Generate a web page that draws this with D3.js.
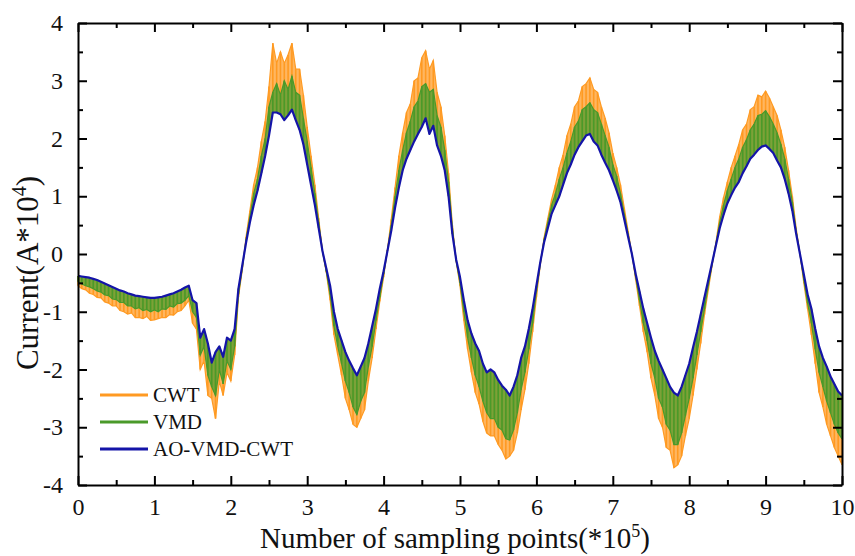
<!DOCTYPE html>
<html>
<head>
<meta charset="utf-8">
<script src="https://cdn.jsdelivr.net/npm/d3@7/dist/d3.min.js"></script>
<style>
  html, body { margin: 0; padding: 0; background: #fff; }
  svg { display: block; }
  text { font-family: "Liberation Serif", "Times New Roman", serif; fill: #111; }
</style>
</head>
<body>
<svg id="chart" width="855" height="556"></svg>
<script>
// ---- data (x in units of 1e5 sampling points, read every 0.05) ----
const sampleX = d3.range(0, 201).map(i => +(i * 0.05).toFixed(2));

const aoVmdCwt = [
  -0.38,-0.39,-0.40,-0.41,-0.43,-0.45,-0.48,-0.51,-0.54,-0.57,
  -0.60,-0.63,-0.65,-0.68,-0.70,-0.72,-0.73,-0.74,-0.75,-0.76,
  -0.76,-0.75,-0.74,-0.72,-0.70,-0.68,-0.65,-0.62,-0.58,-0.55,
  -0.80,-0.85,-1.45,-1.30,-1.55,-1.88,-1.70,-1.60,-1.78,-1.45,
  -1.50,-1.30,-0.60,-0.20, 0.20, 0.55, 0.85, 1.10, 1.40, 1.70,
   2.05, 2.45, 2.45, 2.42, 2.32, 2.40, 2.50, 2.32, 2.15, 1.90,
   1.55, 1.20, 0.85, 0.45, 0.05,-0.25,-0.55,-1.00,-1.30,-1.50,
  -1.70,-1.85,-1.98,-2.10,-1.95,-1.80,-1.55,-1.25,-0.95,-0.60,
  -0.30, 0.05, 0.40, 0.80, 1.15, 1.45, 1.65, 1.80, 1.95, 2.08,
   2.20, 2.35, 2.08, 2.22, 1.88, 1.70, 1.45, 1.00, 0.35,-0.10,
  -0.40,-0.80,-1.15,-1.38,-1.55,-1.68,-1.90,-2.05,-2.00,-2.05,
  -2.18,-2.28,-2.35,-2.45,-2.30,-2.10,-1.80,-1.60,-1.30,-0.95,
  -0.55,-0.15, 0.20, 0.45, 0.70, 0.85, 1.00, 1.20, 1.40, 1.55,
   1.72, 1.85, 1.95, 2.05, 2.08, 1.95, 1.88, 1.72, 1.58, 1.45,
   1.28, 1.10, 0.90, 0.60, 0.30, 0.00,-0.35,-0.65,-0.95,-1.20,
  -1.45,-1.68,-1.85,-2.00,-2.15,-2.30,-2.40,-2.45,-2.30,-2.10,
  -1.90,-1.62,-1.35,-1.05,-0.75,-0.45,-0.15, 0.15, 0.45, 0.68,
   0.88, 1.02, 1.15, 1.25, 1.40, 1.52, 1.65, 1.72, 1.80, 1.86,
   1.88, 1.82, 1.75, 1.62, 1.50, 1.30, 1.05, 0.75, 0.35, 0.00,
  -0.35,-0.70,-0.95,-1.30,-1.60,-1.80,-1.95,-2.12,-2.25,-2.38,
  -2.45
];

const vmdExtreme = [
  -0.48,-0.52,-0.55,-0.57,-0.60,-0.64,-0.66,-0.71,-0.72,-0.78,
  -0.79,-0.84,-0.84,-0.90,-0.90,-0.95,-0.93,-0.98,-0.96,-1.00,
  -0.97,-1.00,-0.95,-0.96,-0.90,-0.92,-0.86,-0.85,-0.80,-0.72,
  -1.00,-1.10,-1.75,-1.60,-2.10,-2.30,-2.45,-2.00,-2.25,-1.85,
  -2.00,-1.60,-0.70,-0.25, 0.25, 0.65, 1.05, 1.30, 1.70, 2.00,
   2.55, 2.80, 2.95, 2.75, 3.00, 2.85, 3.08, 2.80, 2.75, 2.35,
   1.95, 1.50, 1.05, 0.55, 0.05,-0.30,-0.70,-1.25,-1.60,-1.90,
  -2.20,-2.40,-2.65,-2.78,-2.55,-2.40,-1.95,-1.60,-1.15,-0.75,
  -0.35, 0.06, 0.50, 1.00, 1.45, 1.80, 2.10, 2.30, 2.55, 2.65,
   2.90, 2.95, 2.80, 2.85, 2.40, 2.20, 1.80, 1.25, 0.45,-0.12,
  -0.50,-1.00,-1.45,-1.80,-2.10,-2.30,-2.55,-2.75,-2.85,-2.85,
  -3.00,-3.05,-3.20,-3.22,-3.05,-2.75,-2.35,-2.05,-1.65,-1.20,
  -0.65,-0.18, 0.25, 0.55, 0.85, 1.05, 1.30, 1.50, 1.75, 1.95,
   2.20, 2.30, 2.50, 2.55, 2.62, 2.50, 2.45, 2.25, 2.05, 1.85,
   1.55, 1.35, 1.05, 0.70, 0.35, 0.00,-0.40,-0.80,-1.20,-1.50,
  -1.90,-2.15,-2.50,-2.65,-2.95,-3.05,-3.30,-3.30,-3.10,-2.80,
  -2.50,-2.15,-1.75,-1.35,-0.95,-0.55,-0.18, 0.18, 0.55, 0.85,
   1.10, 1.30, 1.50, 1.65, 1.85, 1.98, 2.15, 2.25, 2.40, 2.42,
   2.48, 2.38, 2.25, 2.10, 1.90, 1.65, 1.30, 0.90, 0.40, 0.00,
  -0.45,-0.85,-1.20,-1.65,-2.05,-2.30,-2.55,-2.75,-2.95,-3.10,
  -3.20
];

const cwtExtreme = [
  -0.55,-0.60,-0.62,-0.68,-0.70,-0.75,-0.76,-0.83,-0.85,-0.90,
  -0.90,-0.98,-1.00,-1.04,-1.02,-1.10,-1.10,-1.12,-1.08,-1.15,
  -1.14,-1.12,-1.10,-1.10,-1.05,-1.06,-1.00,-0.98,-0.90,-0.80,
  -1.20,-1.30,-2.00,-1.85,-2.45,-2.50,-2.85,-2.20,-2.45,-2.05,
  -2.20,-1.75,-0.75,-0.28, 0.30, 0.75, 1.20, 1.50, 1.95, 2.30,
   2.90, 3.65, 3.30, 3.50, 3.30, 3.45, 3.65, 3.20, 3.20, 2.75,
   2.20, 1.70, 1.20, 0.62, 0.05,-0.32,-0.80,-1.40,-1.75,-2.10,
  -2.50,-2.70,-2.95,-3.00,-2.85,-2.70,-2.20,-1.80,-1.30,-0.82,
  -0.40, 0.07, 0.60, 1.15, 1.70, 2.10, 2.45, 2.60, 3.00, 3.05,
   3.40, 3.52, 3.20, 3.35, 2.80, 2.55, 2.05, 1.40, 0.50,-0.13,
  -0.55,-1.15,-1.65,-2.05,-2.40,-2.60,-2.90,-3.10,-3.15,-3.15,
  -3.30,-3.40,-3.55,-3.50,-3.40,-3.10,-2.70,-2.35,-1.90,-1.35,
  -0.75,-0.20, 0.28, 0.62, 0.95, 1.20, 1.50, 1.72, 2.05, 2.25,
   2.55, 2.65, 2.90, 2.95, 3.05, 2.85, 2.80, 2.55, 2.35, 2.10,
   1.75, 1.50, 1.20, 0.80, 0.40, 0.00,-0.45,-0.90,-1.35,-1.70,
  -2.15,-2.45,-2.85,-3.00,-3.35,-3.40,-3.70,-3.65,-3.50,-3.15,
  -2.85,-2.45,-2.00,-1.55,-1.05,-0.62,-0.20, 0.20, 0.65, 0.98,
   1.25, 1.50, 1.70, 1.90, 2.15, 2.25, 2.50, 2.55, 2.75, 2.72,
   2.82, 2.70, 2.55, 2.40, 2.15, 1.85, 1.45, 1.00, 0.45, 0.00,
  -0.50,-0.95,-1.40,-1.90,-2.40,-2.65,-2.95,-3.15,-3.35,-3.50,
  -3.65
];

const xTicks = [0,1,2,3,4,5,6,7,8,9,10];
const yTicks = [-4,-3,-2,-1,0,1,2,3,4];
const seriesNames = ["CWT", "VMD", "AO-VMD-CWT"];
const seriesColors = ["#ff9a22", "#4a9a2a", "#1414a8"];

// ---- layout ----
const svg = d3.select("#chart");
const L = 78, R = 842, T = 23, B = 485;
const x = d3.scaleLinear().domain([0, 10]).range([L, R]);
const y = d3.scaleLinear().domain([-4, 4]).range([B, T]);

const plot = svg.append("g");

function band(extreme, color) {
  const area = d3.area()
    .x((d, i) => x(sampleX[i]))
    .y0((d, i) => y(aoVmdCwt[i]))
    .y1(d => y(d));
  const g = plot.append("g");
  g.append("path").datum(extreme)
    .attr("d", area)
    .attr("fill", color)
    .attr("fill-opacity", 0.72)
    .attr("stroke", "none");
  // noise spikes: one stroke per read sample, from the filtered line to the extreme
  g.selectAll("line").data(extreme).join("line")
    .attr("x1", (d, i) => x(sampleX[i])).attr("x2", (d, i) => x(sampleX[i]))
    .attr("y1", (d, i) => y(aoVmdCwt[i])).attr("y2", d => y(d))
    .attr("stroke", color).attr("stroke-width", 1.6);
  g.append("path").datum(extreme)
    .attr("d", d3.line().x((d, i) => x(sampleX[i])).y(d => y(d)))
    .attr("fill", "none")
    .attr("stroke", color)
    .attr("stroke-width", 1.2);
}
band(cwtExtreme, seriesColors[0]);
band(vmdExtreme, seriesColors[1]);

const line = d3.line().x((d, i) => x(sampleX[i])).y(d => y(d));
plot.append("path").datum(aoVmdCwt)
  .attr("d", line)
  .attr("fill", "none")
  .attr("stroke", seriesColors[2])
  .attr("stroke-width", 2.2)
  .attr("stroke-linejoin", "round");

// ---- axes ----
const minorX = d3.range(0, 10, 1).map(v => v + 0.5);
const minorY = d3.range(-4, 4, 1).map(v => v + 0.5);

function styleAxis(g) {
  g.select(".domain").attr("stroke", "#000").attr("stroke-width", 2);
  g.selectAll(".tick line").attr("stroke", "#000").attr("stroke-width", 2);
  g.selectAll(".tick text")
    .style("font-family", '"Liberation Serif", serif')
    .style("font-size", "24px").attr("fill", "#111");
}

// bottom
svg.append("g").attr("transform", `translate(0,${B})`)
  .call(d3.axisBottom(x).tickValues(xTicks).tickSizeInner(-9).tickSizeOuter(0)
        .tickPadding(13).tickFormat(d => String(d)))
  .call(styleAxis);
svg.append("g").attr("transform", `translate(0,${B})`)
  .call(d3.axisBottom(x).tickValues(minorX).tickSize(-5).tickFormat(""))
  .call(styleAxis).select(".domain").remove();
// top
svg.append("g").attr("transform", `translate(0,${T})`)
  .call(d3.axisTop(x).tickValues(xTicks).tickSizeInner(-9).tickSizeOuter(0).tickFormat(""))
  .call(styleAxis);
svg.append("g").attr("transform", `translate(0,${T})`)
  .call(d3.axisTop(x).tickValues(minorX).tickSize(-5).tickFormat(""))
  .call(styleAxis).select(".domain").remove();
// left
svg.append("g").attr("transform", `translate(${L},0)`)
  .call(d3.axisLeft(y).tickValues(yTicks).tickSizeInner(-9).tickSizeOuter(0)
        .tickPadding(15).tickFormat(d => String(d)))
  .call(styleAxis);
svg.append("g").attr("transform", `translate(${L},0)`)
  .call(d3.axisLeft(y).tickValues(minorY).tickSize(-5).tickFormat(""))
  .call(styleAxis).select(".domain").remove();
// right
svg.append("g").attr("transform", `translate(${R},0)`)
  .call(d3.axisRight(y).tickValues(yTicks).tickSizeInner(-9).tickSizeOuter(0).tickFormat(""))
  .call(styleAxis);
svg.append("g").attr("transform", `translate(${R},0)`)
  .call(d3.axisRight(y).tickValues(minorY).tickSize(-5).tickFormat(""))
  .call(styleAxis).select(".domain").remove();

// ---- axis titles ----
const xt = svg.append("text")
  .attr("x", (L + R) / 2 - 5).attr("y", 548)
  .attr("text-anchor", "middle")
  .style("font-size", "29px");
xt.append("tspan").text("Number of sampling points(*10");
xt.append("tspan").attr("dy", -11).style("font-size", "18px").text("5");
xt.append("tspan").attr("dy", 11).text(")");

const yt = svg.append("text")
  .attr("transform", "translate(38,273) rotate(-90)")
  .attr("text-anchor", "middle")
  .style("font-size", "31px");
yt.append("tspan").text("Current(A*10");
yt.append("tspan").attr("dy", -12).style("font-size", "20px").text("4");
yt.append("tspan").attr("dy", 12).text(")");

// ---- legend ----
const legend = svg.append("g");
const legendY = [395, 422, 449];
seriesNames.forEach((name, i) => {
  legend.append("line")
    .attr("x1", 100).attr("x2", 148)
    .attr("y1", legendY[i]).attr("y2", legendY[i])
    .attr("stroke", seriesColors[i]).attr("stroke-width", 3);
  legend.append("text")
    .attr("x", 153).attr("y", legendY[i]).attr("dy", "0.35em")
    .style("font-size", "21px")
    .text(name);
});
</script>
</body>
</html>
